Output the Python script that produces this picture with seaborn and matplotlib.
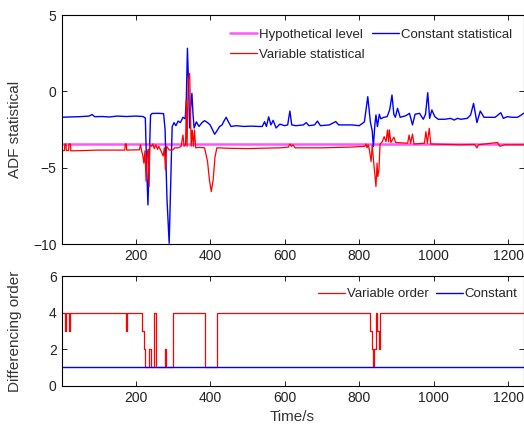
import numpy as np
import pandas as pd
import matplotlib
matplotlib.use('Agg')
import matplotlib.pyplot as plt
import seaborn as sns

# ADF statistics (time in s, value)
hyp_level = -3.44

const_t = [1, 20, 50, 75, 83, 90, 110, 130, 150, 175, 200, 220, 226, 229, 233, 237, 240, 244, 260, 275,
           279, 284, 290, 294, 298, 303, 308, 314, 320, 327, 333, 336, 339, 342, 345, 348, 351, 354, 357, 363,
           370, 378, 385, 393, 400, 406, 412, 418, 425, 432, 437, 443, 449, 456, 470, 490, 510, 530, 540, 546,
           551, 557, 563, 569, 577, 587, 600, 608, 614, 619, 630, 650, 658, 665, 680, 688, 696, 720, 737, 745,
           780, 800, 814, 823, 830, 835, 838, 842, 845, 849, 854, 858, 866, 875, 882, 888, 893, 897, 903, 910,
           925, 935, 943, 950, 962, 972, 978, 984, 989, 995, 1003, 1012, 1030, 1045, 1055, 1064, 1073, 1090, 1099, 1107,
           1116, 1125, 1135, 1144, 1165, 1180, 1187, 1197, 1210, 1225, 1235, 1241]
const_v = [-1.70, -1.68, -1.66, -1.62, -1.52, -1.66, -1.65, -1.68, -1.62, -1.65, -1.62, -1.65, -1.75, -4.5, -7.44, -4.0, -1.56, -1.45, -1.44, -1.46,
           -2.5, -7.0, -9.95, -6.0, -2.31, -2.05, -2.25, -1.95, -2.05, -1.7, -1.8, -0.5, 2.82, 0.5, -2.4, -1.0, -0.13, -1.5, -2.4, -2.0,
           -2.3, -2.05, -1.92, -2.05, -2.2, -2.5, -2.81, -2.6, -2.31, -2.2, -1.95, -1.7, -2.0, -2.3, -2.25, -2.3, -2.28, -2.3, -2.3, -1.99,
           -2.3, -1.67, -2.2, -1.9, -2.4, -2.15, -2.25, -2.2, -1.29, -2.2, -2.25, -2.2, -2.05, -2.25, -2.2, -1.95, -2.25, -2.2, -1.98, -2.2,
           -2.2, -2.25, -2.0, -0.35, -2.0, -2.6, -3.62, -2.2, -1.55, -2.31, -1.5, -1.8, -1.7, -1.66, -1.2, -0.24, -1.5, -1.7, -1.11, -1.7,
           -1.6, -1.44, -2.2, -1.5, -1.44, -1.83, -1.5, -0.09, -1.77, -1.22, -1.66, -1.83, -1.83, -1.77, -1.88, -1.77, -1.83, -1.77, -1.55, -0.79,
           -2.05, -1.29, -1.7, -1.7, -1.7, -1.4, -1.77, -1.66, -1.7, -1.7, -1.55, -1.44]

var_t = [1, 9, 10, 13, 14, 20, 21, 25, 26, 60, 100, 140, 171, 172, 175, 176, 210, 213, 216, 219,
         222, 225, 228, 231, 234, 236, 238, 243, 246, 250, 254, 259, 262, 268, 274, 277, 280, 283, 290, 300,
         305, 315, 322, 327, 330, 334, 336, 338, 341, 345, 349, 352, 355, 358, 361, 370, 385, 393, 398, 403,
         408, 413, 418, 450, 500, 550, 590, 610, 614, 618, 622, 628, 700, 780, 815, 818, 821, 824, 827, 832,
         835, 838, 845, 848, 850, 853, 856, 862, 867, 872, 876, 879, 881, 885, 893, 898, 930, 934, 938, 943,
         947, 975, 979, 983, 988, 992, 1040, 1070, 1110, 1116, 1120, 1171, 1178, 1190, 1241]
var_v = [-3.88, -3.88, -3.45, -3.45, -3.88, -3.88, -3.45, -3.45, -3.9, -3.88, -3.85, -3.85, -3.85, -3.45, -3.45, -3.85, -3.83, -3.5, -3.9, -4.17,
         -4.7, -3.9, -5.9, -4.2, -3.8, -6.24, -3.5, -3.6, -3.45, -3.75, -3.5, -3.8, -3.6, -3.9, -4.24, -3.7, -5.15, -3.6, -3.84, -3.84,
         -3.7, -3.7, -3.6, -2.86, -3.6, -3.5, -0.57, -3.6, 0.63, 1.18, -3.6, -2.53, -3.6, -2.53, -3.7, -3.67, -3.7, -4.6, -5.8, -6.57,
         -5.8, -4.3, -3.7, -3.73, -3.75, -3.72, -3.7, -3.65, -3.45, -3.6, -3.5, -3.7, -3.7, -3.65, -3.6, -3.45, -3.7, -3.5, -3.8, -4.6,
         -3.5, -4.4, -6.24, -4.7, -5.59, -5.15, -3.45, -3.3, -2.97, -3.3, -2.53, -3.3, -2.53, -3.35, -3.0, -3.35, -3.4, -2.86, -3.4, -2.8,
         -3.45, -3.4, -2.64, -3.4, -2.42, -3.45, -3.48, -3.5, -3.48, -3.7, -3.5, -3.35, -3.6, -3.5, -3.5]

# differencing order (step changes)
order_t = [1, 10, 13, 21, 25, 175, 176, 216, 222, 226, 236, 240, 249, 255, 280, 282, 300, 385, 418,
           829, 834, 838, 841, 846, 849, 852, 855, 1241]
order_v = [4, 3, 4, 3, 4, 3, 4, 3, 2, 1, 2, 1, 4, 1, 2, 1, 4, 1, 4,
           3, 2, 1, 2, 4, 3, 2, 4, 4]
const_order = 1

xlim = (1, 1241)

sns.set_style('ticks')
plt.rcParams['font.family'] = ['Liberation Sans', 'DejaVu Sans']
plt.rcParams['xtick.direction'] = 'in'
plt.rcParams['ytick.direction'] = 'in'
plt.rcParams['xtick.top'] = True
plt.rcParams['ytick.right'] = True

fig = plt.figure(figsize=(5.24, 4.30), dpi=100)
W, H = 524, 430
ax1 = fig.add_axes([61.5 / W, 1 - 244 / H, 462 / W, 229 / H])
ax2 = fig.add_axes([61.5 / W, 1 - 385.7 / H, 462 / W, 109.7 / H])

red, blue, mag = '#ff0000', '#0000ff', '#ff55ff'

# top panel
ax1.axhline(hyp_level, color=mag, lw=1.8, label='Hypothetical level')
sns.lineplot(x=const_t, y=const_v, ax=ax1, color=blue, lw=1.0, estimator=None, sort=False,
             label='Constant statistical')
sns.lineplot(x=var_t, y=var_v, ax=ax1, color=red, lw=0.9, estimator=None, sort=False,
             label='Variable statistical')
ax1.set_xlim(*xlim)
ax1.set_ylim(-10, 5)
ax1.set_yticks([-10, -5, 0, 5])
ax1.set_xticks([200, 400, 600, 800, 1000, 1200])
ax1.set_ylabel('ADF statistical', fontsize=11, color='#333333')
ax1.set_xlabel('')
h, l = ax1.get_legend_handles_labels()
idx = [0, 2, 1]
ax1.legend([h[i] for i in idx], [l[i] for i in idx], ncol=2, frameon=False, fontsize=9.5,
           loc='upper left', bbox_to_anchor=(0.36, 0.953), borderaxespad=0, borderpad=0.2,
           handlelength=2.0, handletextpad=0.15, columnspacing=0.6, labelspacing=0.62)

# bottom panel
sns.lineplot(x=order_t, y=order_v, ax=ax2, color=red, lw=0.9, estimator=None, sort=False,
             drawstyle='steps-post', label='Variable order')
ax2.axhline(const_order, color=blue, lw=1.0, label='Constant')
ax2.set_xlim(*xlim)
ax2.set_ylim(0, 6)
ax2.set_yticks([0, 2, 4, 6])
ax2.set_xticks([200, 400, 600, 800, 1000, 1200])
ax2.set_ylabel('Differencing order', fontsize=11, color='#333333')
ax2.set_xlabel('Time/s', fontsize=11, color='#333333')
ax2.legend(ncol=2, frameon=False, fontsize=9.5, loc='upper left', bbox_to_anchor=(0.55, 0.915),
           borderaxespad=0, borderpad=0.2, handlelength=2.0, handletextpad=0.15, columnspacing=0.6)

for ax in (ax1, ax2):
    ax.tick_params(labelsize=10, length=3.5, width=0.7, colors='#222222')
    for s in ax.spines.values():
        s.set_linewidth(0.8)
        s.set_color('black')
    ax.yaxis.set_label_coords(-0.085, 0.5)

fig.savefig('out.png', dpi=100)
